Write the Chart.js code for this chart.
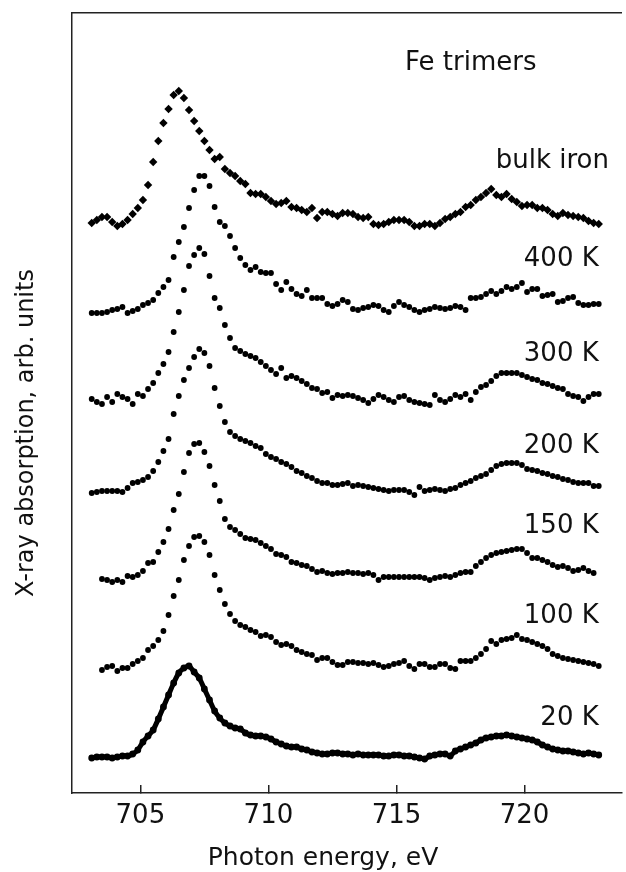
<!DOCTYPE html>
<html>
<head>
<meta charset="utf-8">
<title>Fe trimers XAS</title>
<script src="https://cdn.jsdelivr.net/npm/chart.js@4.4.1/dist/chart.umd.min.js"></script>
<style>
  html, body { margin: 0; padding: 0; background: #fff; overflow: hidden; }
  #wrap { width: 626px; height: 872px; }
</style>
</head>
<body>
<div id="wrap"><canvas id="xasChart" width="626" height="872"></canvas></div>
<script>
// ===== DATA (photon energy in eV, absorption in arb. units incl. vertical offset) =====

const energy = [
  703.1, 703.3, 703.5, 703.7, 703.9, 704.1, 704.3, 704.5, 704.7, 704.9,
  705.1, 705.3, 705.5, 705.7, 705.9, 706.1, 706.3, 706.5, 706.7, 706.9,
  707.1, 707.3, 707.5, 707.7, 707.9, 708.1, 708.3, 708.5, 708.7, 708.9,
  709.1, 709.3, 709.5, 709.7, 709.9, 710.1, 710.3, 710.5, 710.7, 710.9,
  711.1, 711.3, 711.5, 711.7, 711.9, 712.1, 712.3, 712.5, 712.7, 712.9,
  713.1, 713.3, 713.5, 713.7, 713.9, 714.1, 714.3, 714.5, 714.7, 714.9,
  715.1, 715.3, 715.5, 715.7, 715.9, 716.1, 716.3, 716.5, 716.7, 716.9,
  717.1, 717.3, 717.5, 717.7, 717.9, 718.1, 718.3, 718.5, 718.7, 718.9,
  719.1, 719.3, 719.5, 719.7, 719.9, 720.1, 720.3, 720.5, 720.7, 720.9,
  721.1, 721.3, 721.5, 721.7, 721.9, 722.1, 722.3, 722.5, 722.7, 722.9
];

const bulkIron = [
  570, 573, 576, 576, 571, 567, 569, 573, 579, 585,
  593, 608, 631, 652, 670, 684, 698, 702, 695, 683,
  672, 662, 652, 643, 634, 636, 624, 620, 617, 612,
  609, 600, 599, 599, 596, 592, 589, 590, 592, 586,
  585, 583, 581, 585, 575, 581, 581, 579, 577, 580,
  580, 579, 576, 575, 576, 569, 568, 569, 571, 573,
  573, 573, 571, 567, 567, 569, 569, 567, 570, 574,
  576, 579, 581, 586, 588, 593, 596, 600, 604, 598,
  596, 599, 594, 591, 587, 588, 588, 585, 585, 583,
  579, 577, 580, 578, 577, 576, 575, 572, 570, 569
];

const t400K = [
  480, 480, 480, 481, 483, 484, 486, 480, 482, 484,
  488, 490, 493, 500, 506, 513, 536, 551, 566, 585,
  603, 617, 617, 607, 586, 571, 567, 557, 545, 535,
  528, 523, 526, 521, 520, 520, 509, 503, 511, 504,
  499, 497, 503, 495, 495, 495, 489, 487, 489, 493,
  491, 484, 483, 485, 486, 488, 487, 483, 481, 487,
  491, 488, 486, 483, 481, 483, 484, 486, 485, 484,
  485, 487, 486, 483, 495, 495, 496, 499, 502, 499,
  502, 506, 504, 506, 510, 501, 504, 504, 497, 498,
  499, 491, 492, 495, 496, 490, 488, 488, 489, 489
];

const t300K = [
  394, 391, 389, 396, 391, 399, 396, 394, 389, 399,
  397, 404, 410, 420, 429, 441, 461, 481, 503, 527,
  538, 545, 539, 517, 495, 485, 468, 455, 445, 442,
  439, 437, 435, 431, 427, 423, 419, 425, 415, 417,
  415, 412, 409, 405, 404, 400, 401, 395, 398, 397,
  398, 397, 395, 393, 390, 394, 398, 396, 393, 391,
  396, 397, 393, 391, 390, 389, 388, 398, 393, 391,
  394, 398, 396, 399, 393, 401, 406, 408, 412, 417,
  420, 420, 420, 420, 418, 416, 414, 413, 410, 409,
  407, 405, 404, 399, 397, 396, 392, 396, 399, 399
];

const t200K = [
  300, 301, 302, 302, 302, 302, 301, 305, 310, 311,
  313, 316, 322, 331, 342, 354, 379, 397, 413, 425,
  436, 444, 440, 427, 405, 387, 371, 361, 357, 354,
  352, 350, 347, 345, 339, 336, 334, 331, 329, 326,
  322, 320, 317, 315, 312, 310, 310, 308, 308, 309,
  310, 307, 308, 307, 306, 305, 304, 303, 302, 303,
  303, 303, 301, 298, 306, 302, 303, 304, 303, 302,
  304, 305, 308, 310, 312, 315, 317, 319, 323, 327,
  329, 330, 330, 330, 328, 324, 323, 322, 320, 319,
  317, 316, 314, 313, 311, 310, 310, 310, 307, 307
];

const t150K = [
  null, null, 214, 213, 211, 213, 211, 217, 216, 218,
  222, 230, 231, 241, 251, 264, 283, 299, 321, 340,
  349, 350, 341, 327, 308, 292, 274, 266, 263, 259,
  255, 254, 253, 250, 247, 244, 239, 238, 236, 231,
  230, 228, 227, 224, 221, 222, 220, 219, 220, 220,
  221, 220, 220, 219, 220, 218, 213, 216, 216, 216,
  216, 216, 216, 216, 216, 215, 213, 215, 216, 217,
  216, 218, 220, 221, 221, 227, 231, 235, 238, 240,
  241, 242, 243, 244, 244, 240, 235, 235, 233, 231,
  228, 226, 227, 225, 222, 223, 225, 222, 220, null
];

const t100K = [
  null, null, 123, 126, 127, 122, 125, 125, 129, 132,
  135, 143, 147, 153, 162, 178, 197, 213, 233, 247,
  256, 257, 251, 238, 218, 203, 189, 179, 172, 168,
  166, 163, 161, 157, 158, 156, 151, 148, 149, 147,
  143, 141, 139, 138, 133, 135, 135, 131, 128, 128,
  131, 131, 130, 130, 129, 130, 128, 126, 127, 129,
  130, 132, 127, 124, 129, 129, 126, 126, 129, 129,
  125, 124, 132, 132, 132, 135, 139, 144, 152, 149,
  153, 154, 155, 158, 154, 153, 151, 149, 147, 144,
  139, 137, 135, 134, 133, 132, 131, 130, 129, 127
];

const t20K = [
  35, 36, 36, 36, 35, 36, 37, 37, 39, 43,
  51, 57, 63, 74, 86, 98, 110, 120, 125, 127,
  121, 115, 104, 93, 82, 75, 70, 67, 65, 64,
  60, 58, 57, 57, 56, 54, 51, 49, 47, 46,
  46, 44, 43, 41, 40, 39, 39, 40, 40, 39,
  39, 38, 39, 38, 38, 38, 38, 37, 37, 38,
  38, 37, 37, 36, 35, 34, 37, 38, 39, 39,
  37, 42, 44, 46, 48, 50, 53, 55, 56, 57,
  57, 58, 57, 56, 55, 54, 53, 51, 48, 46,
  44, 43, 42, 42, 41, 40, 39, 40, 39, 38
];

const xTicks = [705, 710, 715, 720];

// ===== LABELS NEXT TO THE CURVES (anchored in data units) =====

const notes = [
  { text: 'Fe trimers', x: 717.9, y: 723, align: 'center' },
  { text: 'bulk iron',  x: 723.3, y: 625, align: 'right' },
  { text: '400 K',      x: 722.9, y: 527, align: 'right' },
  { text: '300 K',      x: 722.9, y: 432, align: 'right' },
  { text: '200 K',      x: 722.9, y: 340, align: 'right' },
  { text: '150 K',      x: 722.9, y: 260, align: 'right' },
  { text: '100 K',      x: 722.9, y: 170, align: 'right' },
  { text: '20 K',       x: 722.9, y: 68,  align: 'right' }
];

const xTitle = 'Photon energy, eV';
const yTitle = 'X-ray absorption, arb. units';

const FONT = "'DejaVu Sans', 'Liberation Sans', sans-serif";
const INK = '#111';

function toPoints(values) {
  const pts = [];
  energy.forEach((e, i) => {
    if (values[i] !== null) pts.push({ x: e, y: values[i] });
  });
  return pts;
}

function dotted(label, values) {
  return {
    label: label,
    data: toPoints(values),
    pointStyle: 'circle',
    pointRadius: 2.9,
    pointBackgroundColor: '#000',
    pointBorderWidth: 0,
    showLine: false
  };
}

// ===== TEXT PLUGIN (curve labels + axis titles, placed off-centre like the original) =====

const curveLabels = {
  id: 'curveLabels',
  afterDatasetsDraw(chart) {
    const { ctx, scales, chartArea } = chart;
    ctx.save();
    ctx.fillStyle = INK;
    ctx.font = '26px ' + FONT;
    ctx.textBaseline = 'alphabetic';
    notes.forEach(n => {
      ctx.textAlign = n.align;
      ctx.fillText(n.text, scales.x.getPixelForValue(n.x), scales.y.getPixelForValue(n.y));
    });

    // x axis title
    ctx.font = '25px ' + FONT;
    ctx.textAlign = 'center';
    ctx.textBaseline = 'middle';
    ctx.fillText(xTitle, chartArea.left + 251, chartArea.bottom + 65);

    // y axis title
    ctx.translate(chartArea.left - 45, (chartArea.top + chartArea.bottom) / 2 + 30);
    ctx.rotate(-Math.PI / 2);
    ctx.font = '24px ' + FONT;
    ctx.fillText(yTitle, 0, 0);
    ctx.restore();
  }
};

// ===== CHART =====

const ctx = document.getElementById('xasChart').getContext('2d');
const xasChart = new Chart(ctx, {
  type: 'scatter',
  data: {
    datasets: [
      {
        label: 'bulk iron',
        data: toPoints(bulkIron),
        pointStyle: 'rectRot',
        pointRadius: 4.2,
        pointBackgroundColor: '#000',
        pointBorderWidth: 0,
        showLine: false
      },
      dotted('400 K', t400K),
      dotted('300 K', t300K),
      dotted('200 K', t200K),
      dotted('150 K', t150K),
      dotted('100 K', t100K),
      {
        label: '20 K',
        data: toPoints(t20K),
        showLine: true,
        borderColor: '#000',
        borderWidth: 5,
        tension: 0.2,
        pointRadius: 3.4,
        pointBackgroundColor: '#000',
        pointBorderWidth: 0
      }
    ]
  },
  options: {
    responsive: false,
    animation: false,
    devicePixelRatio: 1,
    layout: { padding: { top: 13, left: 0, right: 0, bottom: 0 } },
    plugins: {
      legend: { display: false },
      tooltip: { enabled: false }
    },
    scales: {
      x: {
        type: 'linear',
        position: 'bottom',
        min: 702.33,
        max: 723.8,
        afterBuildTicks: (scale) => { scale.ticks = xTicks.map(v => ({ value: v })); },
        afterFit: (scale) => { scale.height = 79; },
        grid: {
          drawOnChartArea: false,
          drawTicks: true,
          tickLength: -8,
          color: '#222',
          lineWidth: 1.5
        },
        border: { display: true, color: '#222', width: 1.5 },
        ticks: {
          padding: 16,
          color: INK,
          font: { family: FONT, size: 26 }
        }
      },
      xTop: {
        type: 'linear',
        position: 'top',
        afterFit: (scale) => { scale.height = 0; },
        grid: { display: false },
        ticks: { display: false },
        border: { display: true, color: '#222', width: 1.5 }
      },
      y: {
        type: 'linear',
        position: 'left',
        min: 0,
        max: 780,
        afterFit: (scale) => { scale.width = 72; },
        grid: { display: false },
        ticks: { display: false },
        border: { display: true, color: '#222', width: 1.5 }
      }
    }
  },
  plugins: [curveLabels]
});
</script>
</body>
</html>
